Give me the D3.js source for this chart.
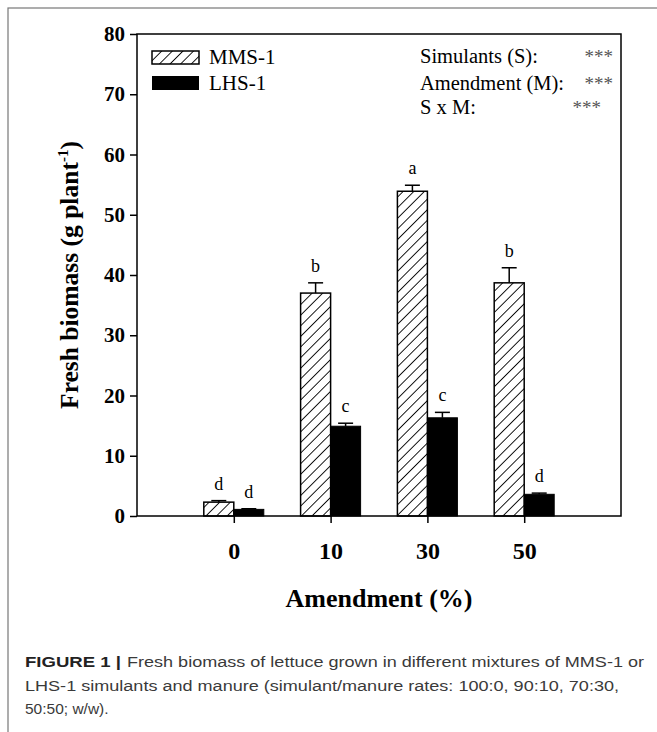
<!DOCTYPE html>
<html>
<head>
<meta charset="utf-8">
<script src="https://cdn.jsdelivr.net/npm/d3@7"></script>
<style>
  body { margin: 0; background: #fff; }
  svg { display: block; }
</style>
</head>
<body>
<svg id="chart" width="657" height="732"></svg>
<script>
// amendment levels (%)
const categories = ["0", "10", "30", "50"];
// MMS-1 (hatched) means and SE
const mmsMeans = [2.3, 37.0, 53.9, 38.7];
const mmsErr = [0.25, 1.7, 1.0, 2.5];
const mmsLetters = ["d", "b", "a", "b"];
// LHS-1 (black) means and SE
const lhsMeans = [1.1, 14.9, 16.3, 3.6];
const lhsErr = [0.1, 0.5, 0.9, 0.2];
const lhsLetters = ["d", "c", "c", "d"];
const yTicks = [0, 10, 20, 30, 40, 50, 60, 70, 80];
const anovaLabels = ["Simulants (S):", "Amendment (M):", "S x M:"];
const anovaStars = ["***", "***", "***"];

const svg = d3.select("#chart");

// outer figure frame
svg.append("rect")
  .attr("x", 8).attr("y", 8)
  .attr("width", 700).attr("height", 800)
  .attr("fill", "none")
  .attr("stroke", "#777")
  .attr("stroke-width", 1.2);

// hatch pattern
const defs = svg.append("defs");
defs.append("pattern")
  .attr("id", "hatch")
  .attr("patternUnits", "userSpaceOnUse")
  .attr("width", 7.5).attr("height", 7.5)
  .attr("patternTransform", "rotate(45)")
  .append("line")
  .attr("x1", 0).attr("y1", 0)
  .attr("x2", 0).attr("y2", 7.5)
  .attr("stroke", "#000")
  .attr("stroke-width", 1.8);

const plotLeft = 137, plotRight = 621, plotTop = 34, plotBottom = 516;

const x = d3.scalePoint()
  .domain(categories)
  .range([plotLeft, plotRight])
  .padding(1);

const y = d3.scaleLinear()
  .domain([0, 80])
  .range([plotBottom, plotTop]);

const barW = 30;

// y axis
const yAxis = svg.append("g")
  .attr("transform", `translate(${plotLeft},0)`)
  .call(d3.axisLeft(y).tickValues(yTicks).tickSize(7).tickPadding(5));
yAxis.select(".domain").remove();
yAxis.selectAll("line").attr("stroke", "#000").attr("stroke-width", 1.5);
yAxis.selectAll("text")
  .attr("font-family", "Liberation Serif")
  .attr("font-weight", "bold")
  .attr("font-size", 21)
  .attr("fill", "#000");

// x axis
const xAxis = svg.append("g")
  .attr("transform", `translate(0,${plotBottom})`)
  .call(d3.axisBottom(x).tickSize(7).tickPadding(19));
xAxis.select(".domain").remove();
xAxis.selectAll("line").attr("stroke", "#000").attr("stroke-width", 1.5);
xAxis.selectAll("text")
  .attr("font-family", "Liberation Serif")
  .attr("font-weight", "bold")
  .attr("font-size", 24)
  .attr("fill", "#000");

// bars
const bars = svg.append("g");
bars.selectAll(".mms")
  .data(mmsMeans)
  .enter().append("rect")
  .attr("x", (d, i) => x(categories[i]) - barW)
  .attr("y", d => y(d))
  .attr("width", barW)
  .attr("height", d => y(0) - y(d))
  .attr("fill", "url(#hatch)")
  .attr("stroke", "#000")
  .attr("stroke-width", 1.5);

bars.selectAll(".lhs")
  .data(lhsMeans)
  .enter().append("rect")
  .attr("x", (d, i) => x(categories[i]))
  .attr("y", d => y(d))
  .attr("width", barW)
  .attr("height", d => y(0) - y(d))
  .attr("fill", "#000")
  .attr("stroke", "#000")
  .attr("stroke-width", 1);

// error bars (upper only) and letters
function drawErrors(means, errs, letters, offset) {
  const g = svg.append("g");
  means.forEach((m, i) => {
    const cx = x(categories[i]) + offset;
    const yt = y(m + errs[i]);
    g.append("line")
      .attr("x1", cx).attr("x2", cx)
      .attr("y1", y(m)).attr("y2", yt)
      .attr("stroke", "#000").attr("stroke-width", 1.5);
    g.append("line")
      .attr("x1", cx - 7.5).attr("x2", cx + 7.5)
      .attr("y1", yt).attr("y2", yt)
      .attr("stroke", "#000").attr("stroke-width", 1.5);
    g.append("text")
      .attr("x", cx)
      .attr("y", yt - 11)
      .attr("text-anchor", "middle")
      .attr("font-family", "Liberation Serif")
      .attr("font-size", 18)
      .text(letters[i]);
  });
}
drawErrors(mmsMeans, mmsErr, mmsLetters, -barW / 2);
drawErrors(lhsMeans, lhsErr, lhsLetters, barW / 2);

// plot frame
svg.append("rect")
  .attr("x", plotLeft).attr("y", plotTop)
  .attr("width", plotRight - plotLeft).attr("height", plotBottom - plotTop)
  .attr("fill", "none")
  .attr("stroke", "#000")
  .attr("stroke-width", 1.5);

// legend
const legend = svg.append("g").attr("font-family", "Liberation Serif").attr("font-size", 21);
legend.append("rect")
  .attr("x", 152).attr("y", 51).attr("width", 47).attr("height", 13)
  .attr("fill", "url(#hatch)").attr("stroke", "#000").attr("stroke-width", 1.5);
legend.append("text").attr("x", 209).attr("y", 64).text("MMS-1");
legend.append("rect")
  .attr("x", 152).attr("y", 76).attr("width", 47).attr("height", 14)
  .attr("fill", "#000");
legend.append("text").attr("x", 209).attr("y", 90).text("LHS-1");

// ANOVA summary
const anovaY = [63, 90, 114];
const starsX = [613, 613, 601];
anovaLabels.forEach((t, i) => {
  legend.append("text").attr("x", 420).attr("y", anovaY[i]).attr("font-size", 20.5).text(t);
  legend.append("text")
    .attr("x", starsX[i]).attr("y", anovaY[i])
    .attr("text-anchor", "end")
    .attr("font-size", 19)
    .attr("fill", "#555")
    .text(anovaStars[i]);
});

// axis titles
svg.append("text")
  .attr("transform", `translate(78,${(plotTop + plotBottom) / 2}) rotate(-90)`)
  .attr("text-anchor", "middle")
  .attr("font-family", "Liberation Serif")
  .attr("font-weight", "bold")
  .attr("font-size", 25.5)
  .call(t => {
    t.append("tspan").text("Fresh biomass (g plant");
    t.append("tspan").attr("dy", -10).attr("font-size", 15).text("-1");
    t.append("tspan").attr("dy", 10).text(")");
  });

svg.append("text")
  .attr("x", (plotLeft + plotRight) / 2)
  .attr("y", 607)
  .attr("text-anchor", "middle")
  .attr("font-family", "Liberation Serif")
  .attr("font-weight", "bold")
  .attr("font-size", 26)
  .text("Amendment (%)");

// caption
const captionBold = "FIGURE 1 |";
const captionLines = [
  "Fresh biomass of lettuce grown in different mixtures of MMS-1 or",
  "LHS-1 simulants and manure (simulant/manure rates: 100:0, 90:10, 70:30,",
  "50:50; w/w)."
];
const caption = svg.append("g")
  .attr("font-family", "Liberation Sans, Arial, sans-serif")
  .attr("font-size", 15.5)
  .attr("fill", "#3a3a3a");
caption.append("text")
  .attr("x", 25).attr("y", 667)
  .attr("font-weight", "bold")
  .attr("fill", "#222")
  .attr("textLength", 96)
  .attr("lengthAdjust", "spacingAndGlyphs")
  .text(captionBold);
caption.append("text")
  .attr("x", 127).attr("y", 667)
  .attr("textLength", 517)
  .attr("lengthAdjust", "spacingAndGlyphs")
  .text(captionLines[0]);
caption.append("text")
  .attr("x", 25).attr("y", 691)
  .attr("textLength", 594)
  .attr("lengthAdjust", "spacingAndGlyphs")
  .text(captionLines[1]);
caption.append("text")
  .attr("x", 25).attr("y", 714)
  .text(captionLines[2]);
</script>
</body>
</html>
